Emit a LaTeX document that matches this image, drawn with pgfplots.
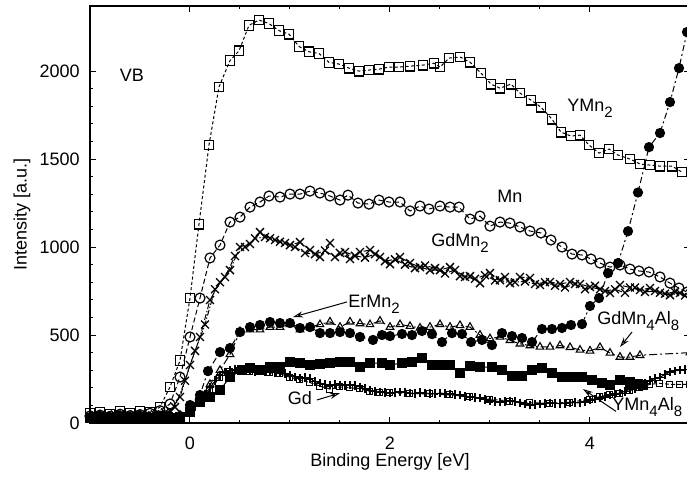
\documentclass[border=0pt]{standalone}
\usepackage{fontspec}
\setmainfont{Liberation Sans}
\usepackage{pgfplots}
\pgfplotsset{compat=1.18}
\usetikzlibrary{arrows.meta}
\newcommand{\sub}[1]{\raisebox{-0.6ex}{\fontsize{7.5}{8}\selectfont #1}}

\begin{document}
\fontsize{9}{11}\selectfont
\begin{tikzpicture}
\begin{axis}[
  name=ax, scale only axis, width=300pt, height=208.5pt,
  xmin=-1, xmax=5, ymin=0, ymax=2370,
  xtick={0,2,4}, minor x tick num=3,
  ytick={0,500,1000,1500,2000}, minor y tick num=4,
  tick align=inside, major tick length=3pt, minor tick length=1.6pt,
  tick style={black, line width=0.5pt},
  axis line style={line width=0.6pt},
  /pgf/number format/assume math mode=true,
  /pgf/number format/1000 sep={},
  scaled ticks=false,
  ticklabel style={font=\fontsize{9}{11}\selectfont},
  yticklabel style={anchor=east, inner sep=0pt, xshift=-5pt},
  xticklabel style={anchor=center, inner sep=0pt, yshift=-10pt},
  every axis plot/.append style={black, line width=0.5pt},
]

% YMn2: open squares, dotted
\addplot[dash pattern=on 1.5pt off 1.2pt, mark=square, mark size=2.4pt,
  mark options={solid, line width=0.6pt}] coordinates {
(-1.0,55)(-0.9,62)(-0.8,50)(-0.7,66)(-0.6,56)(-0.5,68)(-0.4,60)(-0.3,90)
(-0.2,205)(-0.1,355)(0.0,710)(0.09,1130)(0.19,1580)(0.29,1910)(0.40,2060)
(0.49,2115)(0.59,2260)(0.69,2290)(0.79,2270)(0.89,2230)(0.99,2210)(1.09,2140)
(1.19,2110)(1.29,2100)(1.39,2050)(1.49,2040)(1.59,2017)(1.69,2000)(1.79,2006)
(1.89,2011)(1.99,2023)(2.09,2023)(2.20,2028)(2.33,2034)(2.44,2045)(2.50,2023)
(2.59,2074)(2.70,2080)(2.80,2051)(2.91,1989)(3.01,1926)(3.10,1903)(3.21,1926)
(3.30,1875)(3.41,1835)(3.51,1795)(3.62,1727)(3.71,1653)(3.81,1631)(3.90,1636)
(3.99,1580)(4.09,1534)(4.19,1557)(4.28,1523)(4.40,1500)(4.50,1472)(4.60,1466)
(4.70,1460)(4.82,1460)(4.92,1426)};

% Mn: open circles, dashed
\addplot[dash pattern=on 2.5pt off 1.5pt, mark=o, mark size=2.5pt,
  mark options={solid, line width=0.6pt}] coordinates {
(-1.0,40)(-0.9,45)(-0.8,38)(-0.7,50)(-0.6,42)(-0.5,48)(-0.4,55)(-0.3,70)
(-0.2,108)(-0.1,261)(0.0,489)(0.1,710)(0.2,938)(0.3,1011)(0.4,1142)(0.5,1170)
(0.6,1227)(0.7,1256)(0.79,1290)(0.9,1284)(1.0,1301)(1.1,1301)(1.2,1318)
(1.3,1307)(1.4,1290)(1.5,1267)(1.58,1295)(1.68,1250)(1.79,1244)(1.89,1267)
(1.99,1256)(2.1,1256)(2.2,1205)(2.3,1233)(2.39,1216)(2.5,1233)(2.6,1227)
(2.69,1227)(2.8,1159)(2.9,1176)(3.0,1119)(3.1,1142)(3.2,1136)(3.3,1114)
(3.4,1091)(3.51,1080)(3.61,1040)(3.72,1000)(3.82,960)(3.92,955)(4.01,932)
(4.1,909)(4.2,886)(4.3,898)(4.4,875)(4.49,864)(4.59,858)(4.7,830)(4.8,795)
(4.89,767)(4.97,744)};

% GdMn2: crosses, dash-dot, two scans
\addplot[dash pattern=on 3pt off 1pt on 0.6pt off 1pt, mark=x, mark size=2.8pt,
  mark options={solid, line width=0.65pt}] coordinates {
(-1.0,35)(-0.9,42)(-0.8,38)(-0.7,45)(-0.6,36)(-0.5,44)(-0.4,40)(-0.3,48)
(-0.2,70)(-0.1,148)(0.0,330)(0.1,489)(0.2,699)(0.3,800)(0.4,869)(0.5,1000)
(0.6,1017)(0.7,1085)(0.8,1050)(0.9,1030)(1.0,1011)(1.1,1028)(1.2,983)
(1.3,943)(1.4,1023)(1.5,966)(1.6,932)(1.7,972)(1.8,983)(1.9,943)(2.0,903)
(2.1,943)(2.2,909)(2.3,886)(2.4,869)(2.5,869)(2.6,886)(2.7,835)(2.8,835)
(2.9,795)(3.0,852)(3.1,812)(3.2,795)(3.3,830)(3.4,824)(3.5,784)(3.6,801)
(3.7,790)(3.8,801)(3.9,790)(4.0,773)(4.1,760)(4.2,739)(4.3,784)(4.4,770)
(4.5,756)(4.6,767)(4.7,740)(4.8,727)(4.9,739)(5.0,735)};
\addplot[dash pattern=on 3pt off 1pt on 0.6pt off 1pt, mark=x, mark size=2.8pt,
  mark options={solid, line width=0.65pt}] coordinates {
(-0.95,45)(-0.85,40)(-0.75,48)(-0.65,38)(-0.55,46)(-0.45,42)(-0.35,50)
(-0.25,60)(-0.15,90)(-0.05,240)(0.05,410)(0.15,560)(0.25,760)(0.35,830)
(0.45,949)(0.55,1000)(0.65,1050)(0.75,1057)(0.85,1040)(0.95,1023)(1.05,1000)
(1.15,966)(1.25,960)(1.35,980)(1.45,943)(1.55,972)(1.65,950)(1.75,940)
(1.85,960)(1.95,920)(2.05,930)(2.15,900)(2.25,880)(2.35,895)(2.45,880)
(2.55,850)(2.65,870)(2.75,830)(2.85,820)(2.95,840)(3.05,810)(3.15,830)
(3.25,800)(3.35,805)(3.45,790)(3.55,800)(3.65,780)(3.75,770)(3.85,790)
(3.95,760)(4.05,780)(4.15,750)(4.25,760)(4.35,740)(4.45,770)(4.55,745)
(4.65,750)(4.75,735)(4.85,745)(4.95,725)};

% open triangles
\addplot[dash pattern=on 4pt off 1.5pt on 1pt off 1.5pt, mark=triangle, mark size=2.2pt,
  mark options={solid, line width=0.55pt}] coordinates {
(-1.0,38)(-0.9,44)(-0.8,36)(-0.7,46)(-0.6,40)(-0.5,45)(-0.4,38)(-0.3,42)
(-0.2,40)(-0.1,45)(0.0,60)(0.1,140)(0.2,220)(0.3,300)(0.4,390)(0.5,520)
(0.6,530)(0.7,530)(0.8,545)(0.9,545)(1.0,560)(1.1,530)(1.2,545)(1.3,560)
(1.4,575)(1.5,545)(1.6,575)(1.7,565)(1.8,560)(1.9,580)(2.0,545)(2.1,560)
(2.2,550)(2.3,540)(2.4,545)(2.5,560)(2.6,545)(2.7,555)(2.8,545)(2.9,500)
(3.0,480)(3.1,489)(3.2,470)(3.3,450)(3.4,440)(3.5,432)(3.6,432)(3.7,440)
(3.8,430)(3.9,415)(4.0,410)(4.1,430)(4.2,398)(4.3,375)(4.4,375)(4.5,385)
(5.0,400)};

% filled circles
\addplot[dash pattern=on 3pt off 1.5pt on 1pt off 1.5pt, mark=*, mark size=2.3pt,
  mark options={solid}] coordinates {
(-1.0,32)(-0.9,38)(-0.8,30)(-0.7,40)(-0.6,34)(-0.5,38)(-0.4,32)(-0.3,36)
(-0.2,34)(-0.1,40)(0.0,102)(0.1,159)(0.18,295)(0.3,403)(0.4,426)(0.5,517)
(0.6,545)(0.7,557)(0.8,574)(0.9,568)(1.0,568)(1.1,540)(1.2,545)(1.3,511)
(1.4,511)(1.5,517)(1.6,511)(1.7,489)(1.83,472)(1.92,500)(2.0,494)(2.12,506)
(2.22,500)(2.32,523)(2.42,505)(2.52,460)(2.62,511)(2.72,506)(2.81,460)
(2.92,472)(3.02,443)(3.12,511)(3.22,494)(3.32,483)(3.42,460)(3.52,534)
(3.62,534)(3.72,540)(3.81,557)(3.92,562)(4.0,665)(4.09,710)(4.18,852)
(4.28,909)(4.38,1090)(4.48,1310)(4.59,1568)(4.7,1648)(4.8,1824)(4.89,2017)
(4.97,2222)};

% filled squares
\addplot[mark=square*, mark size=2.2pt, mark options={solid}] coordinates {
(-1.0,28)(-0.9,34)(-0.8,26)(-0.7,36)(-0.6,30)(-0.5,34)(-0.4,28)(-0.3,32)
(-0.2,30)(-0.1,36)(0.0,62)(0.1,119)(0.2,148)(0.3,187)(0.4,261)(0.52,301)
(0.6,312)(0.7,301)(0.8,318)(0.9,318)(1.0,347)(1.1,341)(1.2,330)(1.3,335)
(1.4,341)(1.5,347)(1.6,347)(1.7,318)(1.8,341)(1.92,341)(2.0,330)(2.12,341)
(2.22,347)(2.32,369)(2.42,330)(2.52,330)(2.6,330)(2.7,284)(2.8,324)(2.9,318)
(3.02,318)(3.12,301)(3.22,267)(3.32,267)(3.42,301)(3.52,312)(3.62,284)
(3.72,261)(3.82,261)(3.92,261)(4.02,244)(4.12,227)(4.2,216)(4.3,244)
(4.4,233)(4.48,222)(4.53,216)};

% Gd: plus signs, solid
\addplot[mark=+, mark size=2.2pt, mark options={solid, line width=0.55pt}] coordinates {
(-1.0,30)(-0.9,35)(-0.8,28)(-0.7,38)(-0.6,32)(-0.5,36)(-0.4,30)(-0.3,34)
(-0.2,40)(-0.1,45)(0.0,65)(0.05,95)(0.1,130)(0.15,165)(0.2,200)(0.25,240)
(0.3,270)(0.35,290)(0.4,300)(0.45,305)(0.5,295)(0.55,300)(0.6,300)(0.65,290)
(0.7,295)(0.75,290)(0.8,295)(0.85,285)(0.9,290)(0.95,280)(1.0,270)(1.05,262)
(1.1,256)(1.15,258)(1.2,252)(1.25,235)(1.3,227)(1.35,220)(1.4,216)(1.45,218)
(1.5,216)(1.55,214)(1.6,216)(1.65,212)(1.7,205)(1.75,195)(1.8,187)(1.85,180)
(1.9,176)(1.95,172)(2.0,170)(2.05,174)(2.1,176)(2.15,172)(2.2,170)(2.25,168)
(2.3,172)(2.35,170)(2.4,168)(2.45,166)(2.5,170)(2.55,168)(2.6,165)(2.65,162)
(2.7,159)(2.75,152)(2.8,148)(2.85,145)(2.9,142)(2.95,132)(3.0,125)(3.05,120)
(3.1,119)(3.15,122)(3.2,125)(3.25,120)(3.3,114)(3.35,108)(3.4,102)(3.45,104)
(3.5,108)(3.55,112)(3.6,114)(3.65,112)(3.7,110)(3.75,112)(3.8,114)(3.85,116)
(3.9,114)(3.95,122)(4.0,131)(4.05,136)(4.1,142)(4.15,150)(4.2,159)(4.25,165)
(4.3,170)(4.35,180)(4.4,193)(4.45,198)(4.5,205)(4.55,225)(4.6,244)(4.65,252)
(4.7,261)(4.75,275)(4.8,290)(4.85,296)(4.9,301)(4.95,303)(5.0,305)};

% YMn4Al8: small open squares, dashed
\addplot[dash pattern=on 2pt off 1pt, mark=square, mark size=1.5pt,
  mark options={solid, line width=0.5pt}] coordinates {
(-1.0,36)(-0.9,40)(-0.8,34)(-0.7,42)(-0.6,36)(-0.5,40)(-0.4,35)(-0.3,38)
(-0.2,40)(-0.1,45)(0.0,60)(0.1,120)(0.2,190)(0.3,260)(0.4,290)(0.5,300)
(0.6,290)(0.7,300)(0.8,285)(0.9,280)(1.0,260)(1.1,245)(1.2,230)(1.3,210)
(1.4,193)(1.5,205)(1.6,200)(1.7,195)(1.8,180)(1.9,175)(2.0,172)(2.2,168)
(2.4,165)(2.6,160)(2.8,150)(3.0,135)(3.2,125)(3.4,115)(3.6,112)(3.8,118)
(4.0,135)(4.1,150)(4.2,160)(4.3,170)(4.4,185)(4.5,200)(4.6,220)(4.7,225)
(4.8,220)(4.9,220)(5.0,220)};

% labels and arrows
\node at (axis cs:-0.58,1978) {VB};
\node at (axis cs:4.0,1790) {YMn\sub{2}};
\node at (axis cs:3.2,1290) {Mn};
\node at (axis cs:2.7,1023) {GdMn\sub{2}};
\node[anchor=west, inner sep=0pt] at (axis cs:1.58,675) {ErMn\sub{2}};
\draw[line width=0.5pt, -{Stealth[open, length=5pt, width=3pt]}]
  (axis cs:1.57,688) -- (axis cs:1.03,602);
\node at (axis cs:1.1,142) {Gd};
\draw[line width=0.5pt, -{Stealth[open, length=5pt, width=3pt]}]
  (axis cs:1.27,131) -- (axis cs:1.5,170);
\node[anchor=west, inner sep=0pt] at (axis cs:4.07,580) {GdMn\sub{4}Al\sub{8}};
\draw[line width=0.5pt, -{Stealth[open, length=5pt, width=3pt]}]
  (axis cs:4.42,517) -- (axis cs:4.30,432);
\node[anchor=west, inner sep=0pt] at (axis cs:4.22,90) {YMn\sub{4}Al\sub{8}};
\draw[line width=0.5pt, -{Stealth[open, length=5pt, width=3pt]}]
  (axis cs:4.26,66) -- (axis cs:3.93,193);
\end{axis}
\node at ([yshift=-19.5pt]ax.south) {Binding Energy [eV]};
\node[rotate=90] at ([xshift=-34pt]ax.west) {Intensity [a.u.]};
\pgfresetboundingbox
\path[use as bounding box] ([shift={(-45pt,-35.5pt)}]ax.south west)
  rectangle ([shift={(-1.5pt,3pt)}]ax.north east);
\end{tikzpicture}
\end{document}
